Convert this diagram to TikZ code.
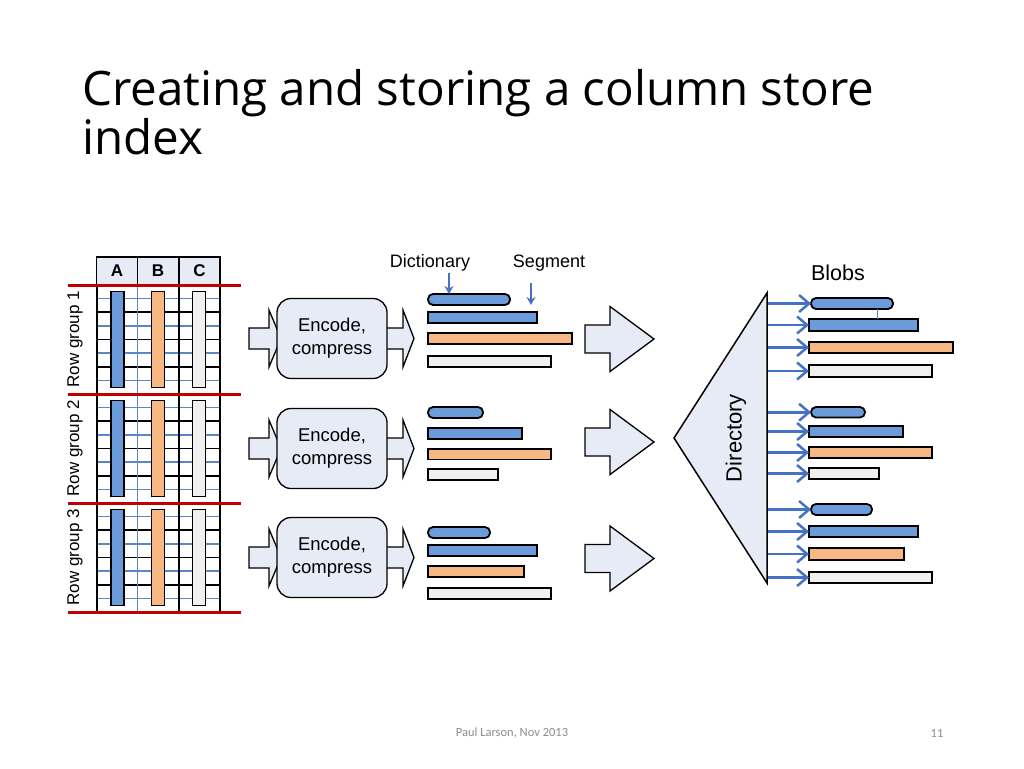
\documentclass[tikz,border=0pt]{standalone}
\usepackage{fontspec}
\setmainfont{Liberation Sans}
\newfontfamily\titlefont{Open Sans}
\newfontfamily\footfont{Carlito}
\usetikzlibrary{arrows.meta,calc}
\definecolor{barblue}{HTML}{6C9BD9}
\definecolor{barorange}{HTML}{F8B884}
\definecolor{bargray}{HTML}{F0F0F0}
\definecolor{paleblue}{HTML}{E6EBF5}
\definecolor{linkblue}{HTML}{4472C4}
\definecolor{gridblue}{HTML}{5B87C8}
\definecolor{rulered}{HTML}{C00000}
\definecolor{footgray}{HTML}{8C8C8C}
\newcommand\blockarrow[6]{%
  \draw[blockarr] ({#1},{#4-#5}) -- ({#2},{#4-#5}) -- ({#2},{#4-#6}) -- ({#3},{#4}) -- ({#2},{#4+#6}) -- ({#2},{#4+#5}) -- ({#1},{#4+#5}) -- cycle;}
\newcommand\mybar[6]{% name, style, x, ytop, len, height
  \node[#2, minimum width={#5*1pt}, minimum height={#6*1pt}] (#1) at ({#3},{#4+#6/2}) {};}
\begin{document}
\begin{tikzpicture}[x=1pt,y=-1pt,
  bar/.style={draw=black,line width=1.8pt,anchor=west,inner sep=0pt,outer sep=0pt},
  dictbar/.style={bar,fill=barblue,rounded corners=5pt},
  segblue/.style={bar,fill=barblue},
  segorange/.style={bar,fill=barorange},
  seggray/.style={bar,fill=bargray},
  colbar/.style={draw=black,line width=1.8pt,inner sep=0pt,outer sep=0pt,minimum width=13pt,minimum height=96pt},
  blockarr/.style={draw=black,line width=1.3pt,fill=paleblue,line join=miter},
  encbox/.style={draw=black,line width=1.3pt,fill=paleblue,rounded corners=14pt,minimum width=110pt,minimum height=80pt,align=center,font=\fontsize{18.5}{23}\selectfont},
  hdr/.style={draw=black,line width=1.3pt,fill=paleblue,minimum width=41pt,minimum height=28pt,inner sep=0pt,font=\bfseries\fontsize{17}{20}\selectfont},
  lbl/.style={font=\fontsize{18}{21}\selectfont,inner sep=0pt},
  dirarrow/.style={draw=linkblue,line width=2.5pt,-{Straight Barb[length=10pt,width=17pt,line width=2.5pt]}},
  ptr/.style={draw=linkblue,line width=2pt,-{Stealth[length=8pt,width=9pt]}},
  blackgrid/.style={draw=black,line width=1.6pt},
  bluegrid/.style={draw=gridblue,line width=1.3pt},
  redrule/.style={draw=rulered,line width=3pt}
]
\useasboundingbox[fill=white] (0,0) rectangle (1024,768);

% title
\node[anchor=base west,inner sep=0pt,font=\titlefont\fontsize{47.5}{49}\selectfont] (title1) at (82,105) {Creating and storing a column store};
\node[anchor=base west,inner sep=0pt,font=\titlefont\fontsize{47.5}{49}\selectfont] (title2) at (82,154) {index};

% ---------- table grid ----------
\foreach \g in {0,1,2}{
  \foreach \k in {1,3,5,7}{
    \draw[bluegrid] (97,{285+109*\g+13.625*\k}) -- (220,{285+109*\g+13.625*\k});
  }
  \foreach \k in {2,4,6}{
    \draw[blackgrid] (97,{285+109*\g+13.625*\k}) -- (220,{285+109*\g+13.625*\k});
  }
}
\draw[bluegrid] (137.5,285) -- (137.5,612);
\draw[blackgrid] (97,257) -- (97,612);
\draw[blackgrid] (179,285) -- (179,612);
\draw[blackgrid] (220,257) -- (220,612);

\node[hdr] (hA) at (117,271) {A};
\node[hdr] (hB) at (158,271) {B};
\node[hdr] (hC) at (199.5,271) {C};

\foreach \g/\n in {0/1,1/2,2/3}{
  \node[colbar,fill=barblue] (cA\n) at (117.5,{285+109*\g+54.5}) {};
  \node[colbar,fill=barorange] (cB\n) at (158,{285+109*\g+54.5}) {};
  \node[colbar,fill=bargray] (cC\n) at (199,{285+109*\g+54.5}) {};
  \node[rotate=90,lbl,font=\fontsize{17}{20}\selectfont] (rg\n) at (75,{285+109*\g+54.5}) {Row group \n};
}
\foreach \y in {285,394,503,612}{
  \draw[redrule] (68,\y) -- (241,\y);
}

% ---------- encode stage ----------
\foreach \n/\y in {1/338.5,2/448.5,3/557.5}{
  \blockarrow{249}{269}{281}{\y}{10.5}{28.5}
  \blockarrow{380}{403}{414}{\y}{10.5}{28.5}
  \node[encbox] (enc\n) at (332,\y) {Encode,\\compress};
}

% ---------- segments ----------
\mybar{m1d}{dictbar}{428}{294}{82}{11}
\mybar{m1b}{segblue}{428}{312}{109}{11}
\mybar{m1o}{segorange}{428}{333}{144}{11}
\mybar{m1w}{seggray}{428}{356}{123}{11}

\mybar{m2d}{dictbar}{428}{407}{55}{11}
\mybar{m2b}{segblue}{428}{428}{94}{11}
\mybar{m2o}{segorange}{428}{449}{123}{10.5}
\mybar{m2w}{seggray}{428}{469}{70}{11}

\mybar{m3d}{dictbar}{428}{527}{62}{11}
\mybar{m3b}{segblue}{428}{545}{109}{11}
\mybar{m3o}{segorange}{428}{566}{96}{11}
\mybar{m3w}{seggray}{428}{588}{123}{11}

\node[lbl] (dictlbl) at (430,263) {Dictionary};
\node[lbl] (seglbl) at (549,263) {Segment};
\coordinate (dictA) at (449,273);
\coordinate (segA) at (531,283);
\draw[ptr] (dictA) -- (dictA |- m1d.north);
\draw[ptr] (segA) -- (531,305);

% ---------- big arrows ----------
\blockarrow{585}{610}{654}{339}{14}{32.5}
\blockarrow{585}{610}{654}{442}{14}{32.5}
\blockarrow{585}{610}{654}{558.5}{14}{32.5}

% ---------- directory ----------
\draw[draw=black,line width=1.5pt,fill=paleblue,line join=miter] (767,293) -- (674,438) -- (767,583) -- cycle;
\coordinate (dirR) at (768,438);
\node[rotate=90,font=\fontsize{22}{26}\selectfont,inner sep=0pt] (dirlbl) at (736,438) {Directory};
\node[font=\fontsize{21.5}{25}\selectfont,inner sep=0pt] (blobs) at (838,273) {Blobs};

% ---------- blobs ----------
\mybar{b1d}{dictbar}{811}{298}{82}{11}
\mybar{b1b}{segblue}{809}{319}{109}{12}
\mybar{b1o}{segorange}{809}{342}{144}{11}
\mybar{b1w}{seggray}{809}{365}{123}{12}

\mybar{b2d}{dictbar}{811}{407}{54}{10.5}
\mybar{b2b}{segblue}{809}{426}{94}{11}
\mybar{b2o}{segorange}{809}{447}{123}{11}
\mybar{b2w}{seggray}{809}{468}{70}{11}

\mybar{b3d}{dictbar}{811}{504}{61}{11}
\mybar{b3b}{segblue}{809}{526}{109}{11}
\mybar{b3o}{segorange}{809}{548}{95}{12}
\mybar{b3w}{seggray}{809}{572}{123}{11}

\draw[draw=gridblue,line width=1pt] (b1d.south -| 877,0) -- (b1b.north -| 877,0);

\foreach \b in {b1d,b1b,b1o,b1w,b2d,b2b,b2o,b2w,b3d,b3b,b3o,b3w}{
  \draw[dirarrow] (dirR |- \b.west) -- (\b.west);
}

% ---------- footer ----------
\node[font=\footfont\fontsize{12.5}{15}\selectfont,text=footgray,inner sep=0pt] (foot) at (512,733) {Paul Larson, Nov 2013};
\node[font=\footfont\fontsize{12.5}{15}\selectfont,text=footgray,inner sep=0pt] (pnum) at (937,733) {11};
\end{tikzpicture}
\end{document}
